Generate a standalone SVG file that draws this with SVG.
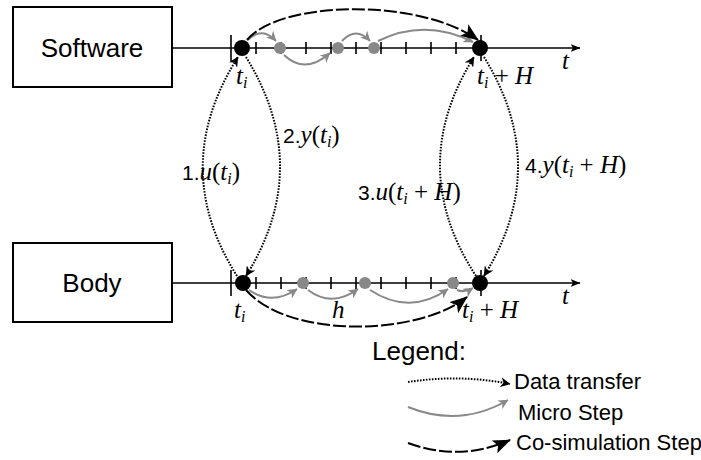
<svg xmlns="http://www.w3.org/2000/svg" width="701" height="460" viewBox="0 0 701 460">
<style>
.box{fill:#fff;stroke:#000;stroke-width:2}
.lbl{font-family:"Liberation Sans",Arial,sans-serif;font-size:26px;fill:#000}
.num{font-family:"Liberation Sans",Arial,sans-serif;font-size:21px;fill:#000}
.leg{font-family:"Liberation Sans",Arial,sans-serif;font-size:22px;fill:#000}
.math{font-family:"Liberation Serif","Times New Roman",serif;font-size:25px;font-style:italic;fill:#000}
.up{font-style:normal}
.axis{stroke:#000;stroke-width:1.6;fill:none}
.tick{stroke:#000;stroke-width:1.6;fill:none}
.dot{fill:#000}
.gdot{fill:#888}
.data{stroke:#000;stroke-width:2;fill:none;stroke-dasharray:1.6 1.4}
.micro{stroke:#888;stroke-width:2;fill:none}
.cosim{stroke:#000;stroke-width:2;fill:none;stroke-dasharray:13 3}
</style>
<defs>
<marker id="mAxis" viewBox="0 0 10 8" refX="9.5" refY="4" markerWidth="10" markerHeight="8" markerUnits="userSpaceOnUse" orient="auto"><path d="M0,0 L10,4 L0,8 L2.5,4 z" fill="#000"/></marker>
<marker id="mData" viewBox="0 0 10 10" refX="9.5" refY="5" markerWidth="10" markerHeight="10" markerUnits="userSpaceOnUse" orient="auto"><path d="M0,0 L10,5 L0,10 L3,5 z" fill="#000"/></marker>
<marker id="mMicro" viewBox="0 0 10 10" refX="9.5" refY="5" markerWidth="10" markerHeight="10" markerUnits="userSpaceOnUse" orient="auto"><path d="M0,0 L10,5 L0,10 L3,5 z" fill="#888"/></marker>
<marker id="mCo" viewBox="0 0 18 14" refX="17" refY="7" markerWidth="18" markerHeight="14" markerUnits="userSpaceOnUse" orient="auto"><path d="M0,0 L18,7 L0,14 L4,7 z" fill="#000"/></marker>
</defs>

<g id="software">
<rect class="box" x="13" y="7" width="159" height="80"/>
<text class="lbl" x="92" y="57" text-anchor="middle">Software</text>
</g>
<g id="body">
<rect class="box" x="13" y="243" width="159" height="79"/>
<text class="lbl" x="92" y="292" text-anchor="middle">Body</text>
</g>

<g id="software-timeline">
<path class="axis" d="M172,48 L580,48" marker-end="url(#mAxis)"/>
<path class="tick" d="M231,35 V61 M481,35 V61 M256,42 V54 M281,42 V54 M306,42 V54 M331,42 V54 M356,42 V54 M381,42 V54 M406,42 V54 M431,42 V54 M456,42 V54"/>
<circle class="gdot" cx="280" cy="48" r="6"/>
<circle class="gdot" cx="338" cy="48" r="6"/>
<circle class="gdot" cx="374" cy="48" r="6"/>
<circle class="dot" cx="242" cy="48" r="8"/>
<circle class="dot" cx="480" cy="48" r="8"/>
<text class="math" x="562" y="69">t</text>
<text class="math" x="236" y="84">t<tspan font-size="16" dy="4">i</tspan></text>
<text class="math" x="477" y="84">t<tspan font-size="16" dy="4">i</tspan><tspan class="up" dy="-4"> + </tspan>H</text>
</g>

<g id="body-timeline">
<path class="axis" d="M172,283 L580,283" marker-end="url(#mAxis)"/>
<path class="tick" d="M231,270 V296 M481,270 V296 M256,277 V289 M281,277 V289 M306,277 V289 M331,277 V289 M356,277 V289 M381,277 V289 M406,277 V289 M431,277 V289 M456,277 V289"/>
<circle class="gdot" cx="303" cy="283" r="6"/>
<circle class="gdot" cx="365" cy="283" r="6"/>
<circle class="gdot" cx="453" cy="283" r="6"/>
<circle class="dot" cx="243" cy="283" r="8"/>
<circle class="dot" cx="480" cy="283" r="8"/>
<text class="math" x="562" y="304">t</text>
<text class="math" x="234" y="318">t<tspan font-size="16" dy="4">i</tspan></text>
<text class="math" x="332" y="318">h</text>
<text class="math" x="462" y="318">t<tspan font-size="16" dy="4">i</tspan><tspan class="up" dy="-4"> + </tspan>H</text>
</g>

<g id="connectors">
<path class="micro" d="M248,40 Q262,26 276,41" marker-end="url(#mMicro)"/>
<path class="micro" d="M284,55 Q305,75 330,53" marker-end="url(#mMicro)"/>
<path class="micro" d="M342,41 Q356,26 370,41" marker-end="url(#mMicro)"/>
<path class="micro" d="M378,41 Q425,18 473,42" marker-end="url(#mMicro)"/>
<path class="micro" d="M249,290 Q272,306 297,289" marker-end="url(#mMicro)"/>
<path class="micro" d="M308,290 Q332,308 358,289" marker-end="url(#mMicro)"/>
<path class="micro" d="M370,290 Q410,316 448,289" marker-end="url(#mMicro)"/>
<path class="micro" d="M457,290 Q465,293 473,288" marker-end="url(#mMicro)"/>
<path class="cosim" d="M247,40 C280,0 420,-2 478,40" marker-end="url(#mCo)"/>
<path class="cosim" d="M246,290 C290,340 420,335 467,297" marker-end="url(#mCo)"/>
<path class="data" d="M237,276 Q168,167 238,57" marker-end="url(#mData)"/>
<path class="data" d="M246,57 Q314,167 246,276" marker-end="url(#mData)"/>
<path class="data" d="M476,276 Q405,167 474,57" marker-end="url(#mData)"/>
<path class="data" d="M484,57 Q552,167 484,276" marker-end="url(#mData)"/>
</g>

<g id="labels">
<text x="182" y="180"><tspan class="num">1.</tspan><tspan class="math">u<tspan class="up">(</tspan>t<tspan font-size="16" dy="4">i</tspan><tspan class="up" dy="-4">)</tspan></tspan></text>
<text x="283" y="143"><tspan class="num">2.</tspan><tspan class="math">y<tspan class="up">(</tspan>t<tspan font-size="16" dy="4">i</tspan><tspan class="up" dy="-4">)</tspan></tspan></text>
<text x="358" y="200"><tspan class="num">3.</tspan><tspan class="math">u<tspan class="up">(</tspan>t<tspan font-size="16" dy="4">i</tspan><tspan class="up" dy="-4"> + </tspan>H<tspan class="up">)</tspan></tspan></text>
<text x="525" y="173"><tspan class="num">4.</tspan><tspan class="math">y<tspan class="up">(</tspan>t<tspan font-size="16" dy="4">i</tspan><tspan class="up" dy="-4"> + </tspan>H<tspan class="up">)</tspan></tspan></text>
</g>

<g id="legend">
<text class="lbl" x="372" y="360">Legend:</text>
<path class="data" d="M408,382 Q460,374 510,384" marker-end="url(#mData)"/>
<text class="leg" x="514" y="389">Data transfer</text>
<path class="micro" d="M408,407 Q460,428 508,400" marker-end="url(#mMicro)"/>
<text class="leg" x="518" y="420">Micro Step</text>
<path class="cosim" d="M408,443 Q460,462 510,440" marker-end="url(#mCo)"/>
<text class="leg" x="516" y="450">Co-simulation Step</text>
</g>
</svg>
